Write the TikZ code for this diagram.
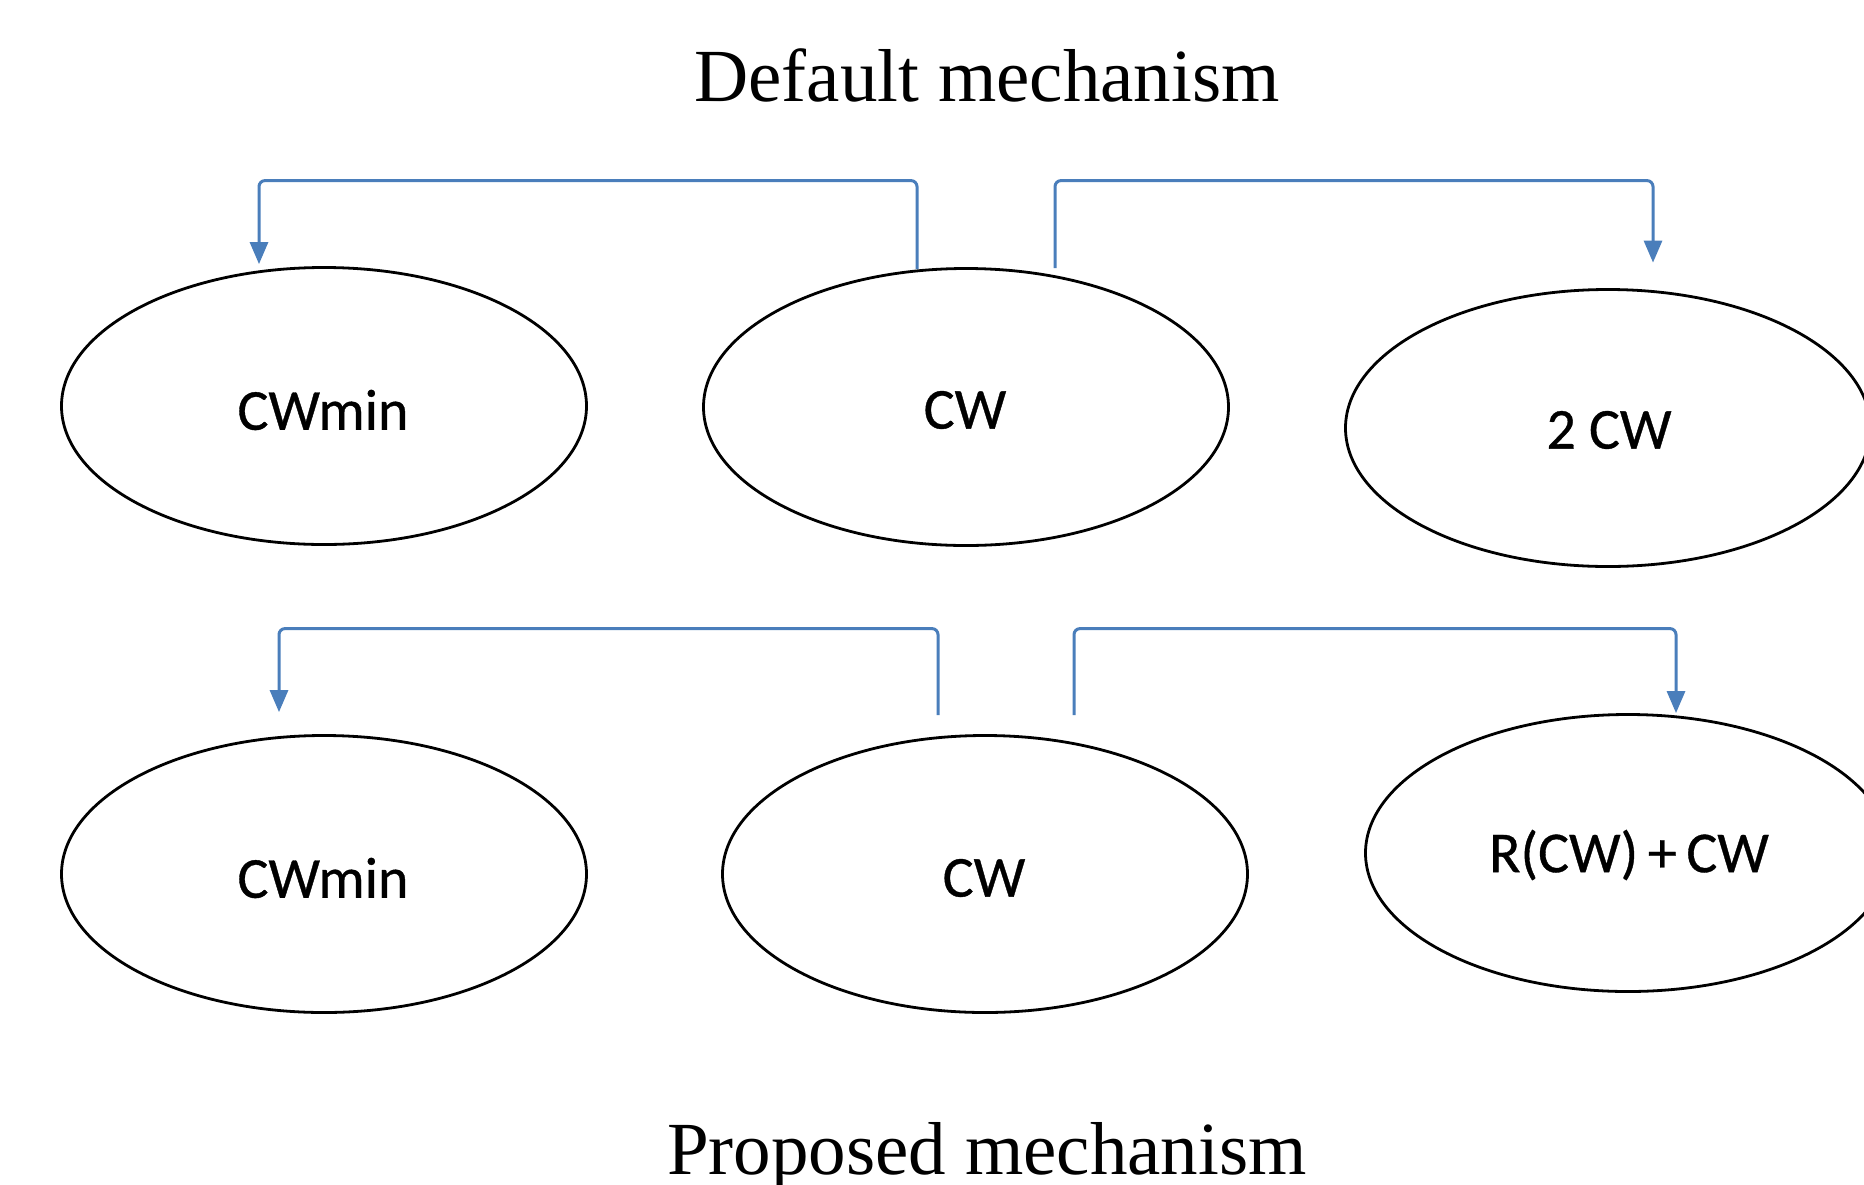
\documentclass[tikz,border=0pt]{standalone}
\usepackage{fontspec}
\setmainfont{Liberation Serif}
\newfontfamily\calib[FakeBold=0.6]{Carlito}
\usetikzlibrary{shapes.geometric,arrows.meta,calc}
\definecolor{arrowblue}{HTML}{4A7EBB}
\tikzset{
  oval/.style={ellipse, draw=black, line width=2.8pt, inner sep=0pt,
    minimum width=525pt, minimum height=277pt},
  lbl/.style={font=\calib\fontsize{58}{60}\selectfont, inner sep=0pt},
  conn/.style={draw=arrowblue, line width=3pt, rounded corners=6pt,
    -{Triangle[length=22pt,width=18pt]}},
  heading/.style={font=\fontsize{75}{80}\selectfont, inner sep=0pt, anchor=base}
}
\begin{document}
\begin{tikzpicture}[x=1pt,y=-1pt]
\useasboundingbox (0,0) rectangle (1864,1184);
% titles
\node[heading] (t1) at (987,101) {Default mechanism};
\node[heading] (t2) at (987,1174) {Proposed mechanism};
% top row
\node[oval] (minA) at (324,406) {};
\node[lbl] (minAt) at (323,410) {CWmin};
\node[oval] (cwA) at (966,407) {};
\node[lbl] (cwAt) at (965,410) {CW};
\node[oval] (twoA) at (1608,428) {};
\node[lbl] (twoAt) at (1609,430) {2 CW};
% bottom row
\node[oval] (minB) at (324,874) {};
\node[lbl] (minBt) at (323,878) {CWmin};
\node[oval] (cwB) at (985,874) {};
\node[lbl] (cwBt) at (984,878) {CW};
\node[oval] (rcwB) at (1628,853) {};
\node[lbl] (rcwBt) at (1629,855) {R(CW)\,+\,CW};
% connectors top
\draw[conn] ($(cwA.north)+(-49,2)$) |- ($(minA.north)+(-65,-85.5)$) -- ($(minA.north)+(-65,-2)$);
\draw[conn] ($(cwA.north)+(89,1)$) |- ($(twoA.north)+(45,-107.5)$) -- ($(twoA.north)+(45,-25.5)$);
% connectors bottom
\draw[conn] ($(cwB.north)+(-47,-19)$) |- ($(minB.north)+(-45,-105.5)$) -- ($(minB.north)+(-45,-22)$);
\draw[conn] ($(cwB.north)+(89,-19)$) |- ($(rcwB.north)+(48,-84.5)$) -- ($(rcwB.north)+(48,0)$);
\end{tikzpicture}
\end{document}
